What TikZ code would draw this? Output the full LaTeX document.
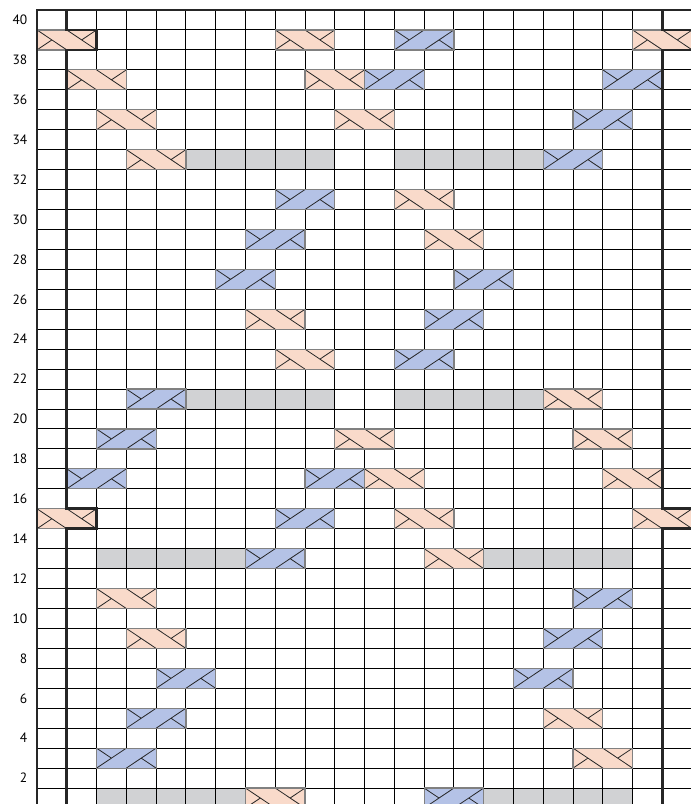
\documentclass[tikz,border=0pt]{standalone}
\usepackage{fontspec}
\setmainfont{PT Sans}
\usepackage{xcolor}
\usepackage{tikz}
\usetikzlibrary{calc}

\definecolor{pinkfill}{HTML}{F9DACA}
\definecolor{bluefill}{HTML}{B4C2E6}
\definecolor{barfill}{HTML}{D1D2D4}

% cell size of the chart (in pt, origin at the top left)
\newcommand{\cw}{29.78}
\newcommand{\rh}{19.95}

\begin{document}
\begin{tikzpicture}[
  x=1pt, y=-1pt,
  gridline/.style={line width=1pt, black},
  edgeline/.style={line width=2.6pt, black!85, line join=miter},
  cablebox/.style={draw=black!50, line width=1.2pt},
  twist/.style={line width=0.8pt, black!85},
  rowlabel/.style={anchor=east, inner sep=0pt, font=\fontsize{13.5}{13.5}\selectfont},
  rc/.pic={
    \fill[pinkfill] (0,0) rectangle (2*\cw,\rh);
    \draw[twist] (0,0) -- (\cw,\rh) (\cw,0) -- (2*\cw,\rh)
      (0,\rh) -- (0.5*\cw,0.5*\rh) (1.5*\cw,0.5*\rh) -- (2*\cw,0);
    \draw[cablebox] (0,0) rectangle (2*\cw,\rh);
  },
  lc/.pic={
    \fill[bluefill] (0,0) rectangle (2*\cw,\rh);
    \draw[twist] (0,\rh) -- (\cw,0) (\cw,\rh) -- (2*\cw,0)
      (0,0) -- (0.5*\cw,0.5*\rh) (1.5*\cw,0.5*\rh) -- (2*\cw,\rh);
    \draw[cablebox] (0,0) rectangle (2*\cw,\rh);
  }
]

\clip (0,0) rectangle (691,804);
\fill[white] (0,0) rectangle (691,804);

% Grey bars (row/first col/last col)
\foreach \r/\a/\b in {33/5/9, 33/12/16, 21/5/9, 21/12/16,
                      13/2/6, 13/15/19, 1/2/6, 1/15/19}
  \fill[barfill] ({37+\a*\cw},{10+(40-\r)*\rh}) rectangle
                 ({37+(\b+1)*\cw},{10+(41-\r)*\rh});

% Grid
\foreach \c in {1,...,22}
  \draw[gridline] ({37+\c*\cw},10) -- ++(0,800);
\foreach \k in {1,...,40}
  \draw[gridline] (37,{10+\k*\rh}) -- (700,{10+\k*\rh});

% Right cross cables
\foreach \r/\c in {39/0, 39/8, 39/20, 37/1, 37/9, 35/2, 35/10, 33/3,
                   31/12, 29/13, 25/7, 23/8, 21/17, 19/10, 19/18,
                   17/11, 17/19, 15/0, 15/12, 15/20, 13/13, 11/2,
                   9/3, 5/17, 3/18, 1/7}
  \pic at ({37+\c*\cw},{10+(40-\r)*\rh}) {rc};

% Left cross cables
\foreach \r/\c in {39/12, 37/11, 37/19, 35/18, 33/17, 31/8, 29/7,
                   27/6, 27/14, 25/13, 23/12, 21/3, 19/2, 17/1,
                   17/9, 15/8, 13/7, 11/18, 9/17, 7/4, 7/16, 5/3,
                   3/2, 1/13}
  \pic at ({37+\c*\cw},{10+(40-\r)*\rh}) {lc};

% Outer border
\draw[edgeline] (37,810) -- (37,10) -- (700,10);

% Edge stitch boundaries
\draw[edgeline] (37+\cw,10) -- (37+\cw,29.95) -- (37+2*\cw,29.95)
  -- (37+2*\cw,49.9) -- (37+\cw,49.9) -- (37+\cw,508.75)
  -- (37+2*\cw,508.75) -- (37+2*\cw,528.7) -- (37+\cw,528.7)
  -- (37+\cw,810);
\draw[edgeline] (37+21*\cw,10) -- (37+21*\cw,29.95) -- (700,29.95);
\draw[edgeline] (700,49.9) -- (37+21*\cw,49.9) -- (37+21*\cw,508.75)
  -- (700,508.75);
\draw[edgeline] (700,528.7) -- (37+21*\cw,528.7) -- (37+21*\cw,810);

% Row numbers
\foreach \r in {2,4,...,40}
  \node[rowlabel] (lbl\r) at (27.5,{10+(40-\r)*\rh+0.5*\rh}) {\r};

\end{tikzpicture}
\end{document}
